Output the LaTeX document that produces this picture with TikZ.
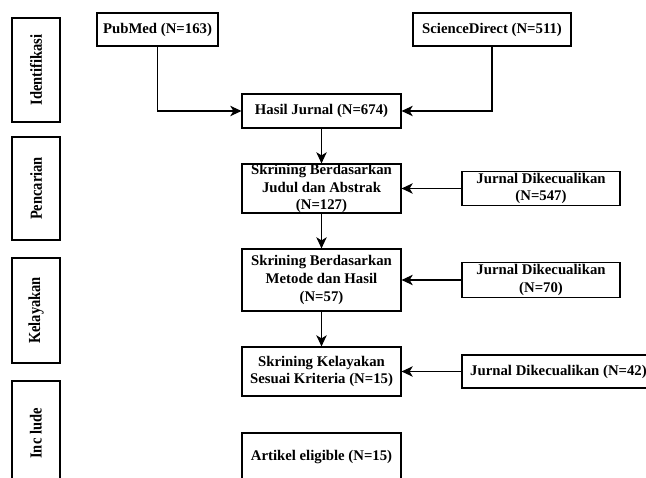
\documentclass[tikz,border=0pt]{standalone}
\usepackage{fontspec}
\setmainfont{Liberation Serif}
\usetikzlibrary{arrows.meta}

\tikzset{
    box/.style={draw, line width=0.8pt, align=center, inner sep=0pt,
        font=\bfseries\fontsize{10.5}{12.5}\selectfont},
    phase/.style={box, rotate=90, minimum height=1.2cm,
        font=\bfseries\fontsize{12}{14}\selectfont\addfontfeature{FakeStretch=0.86}}
}

\begin{document}
\begin{tikzpicture}[
    scale=1,
    line width=0.8pt,
    >={Stealth[length=2.8mm,width=2.6mm,inset=0.8mm]}]

    \useasboundingbox (0,0) rectangle (16.15,11.925);
    \clip (0,0) rectangle (16.15,11.925);

    % phases
    \node[phase, minimum width=2.6cm] (ident) at (0.9,10.175) {Identifikasi};
    \node[phase, minimum width=2.575cm] (cari) at (0.9,7.2125) {Pencarian};
    \node[phase, minimum width=2.625cm] (layak) at (0.9,4.1625) {Kelayakan};
    \node[phase, minimum width=2.625cm] (incl) at (0.9,1.0875) {Inc lude};

    % sources
    \node[box, minimum width=3.025cm, minimum height=0.825cm] (pubmed) at (3.9375,11.1875) {PubMed (N=163)};
    \node[box, minimum width=3.95cm, minimum height=0.825cm] (sd) at (12.3,11.1875) {ScienceDirect (N=511)};

    % main column
    \node[box, minimum width=3.975cm, minimum height=0.85cm] (hasil) at (8.0375,9.15) {Hasil Jurnal (N=674)};
    \node[box, minimum width=3.975cm, minimum height=1.225cm] (skr1) at (8.0375,7.2125) {Skrining Berdasarkan\\Judul dan Abstrak\\(N=127)};
    \node[box, minimum width=3.975cm, minimum height=1.55cm] (skr2) at (8.0375,4.925) {Skrining Berdasarkan\\Metode dan Hasil\\(N=57)};
    \node[box, minimum width=3.975cm, minimum height=1.225cm] (skr3) at (8.0375,2.6375) {Skrining Kelayakan\\Sesuai Kriteria (N=15)};
    \node[box, minimum width=3.975cm, minimum height=1.2cm] (artikel) at (8.0375,0.5) {Artikel eligible (N=15)};

    % excluded
    \node[box, minimum width=3.95cm, minimum height=0.85cm] (exc1) at (13.525,7.2125) {Jurnal Dikecualikan\\(N=547)};
    \node[box, minimum width=3.95cm, minimum height=0.875cm] (exc2) at (13.525,4.925) {Jurnal Dikecualikan\\(N=70)};
    \node[box, minimum width=4.825cm, minimum height=0.825cm] (exc3) at (13.9625,2.6375) {Jurnal Dikecualikan (N=42)};

    % connectors
    \draw[->] (pubmed) |- (hasil);
    \draw[->] (sd) |- (hasil);
    \draw[->] (hasil) -- (skr1);
    \draw[->] (skr1) -- (skr2);
    \draw[->] (skr2) -- (skr3);
    \draw[->] (exc1) -- (skr1);
    \draw[->] (exc2) -- (skr2);
    \draw[->] (exc3) -- (skr3);

\end{tikzpicture}
\end{document}
